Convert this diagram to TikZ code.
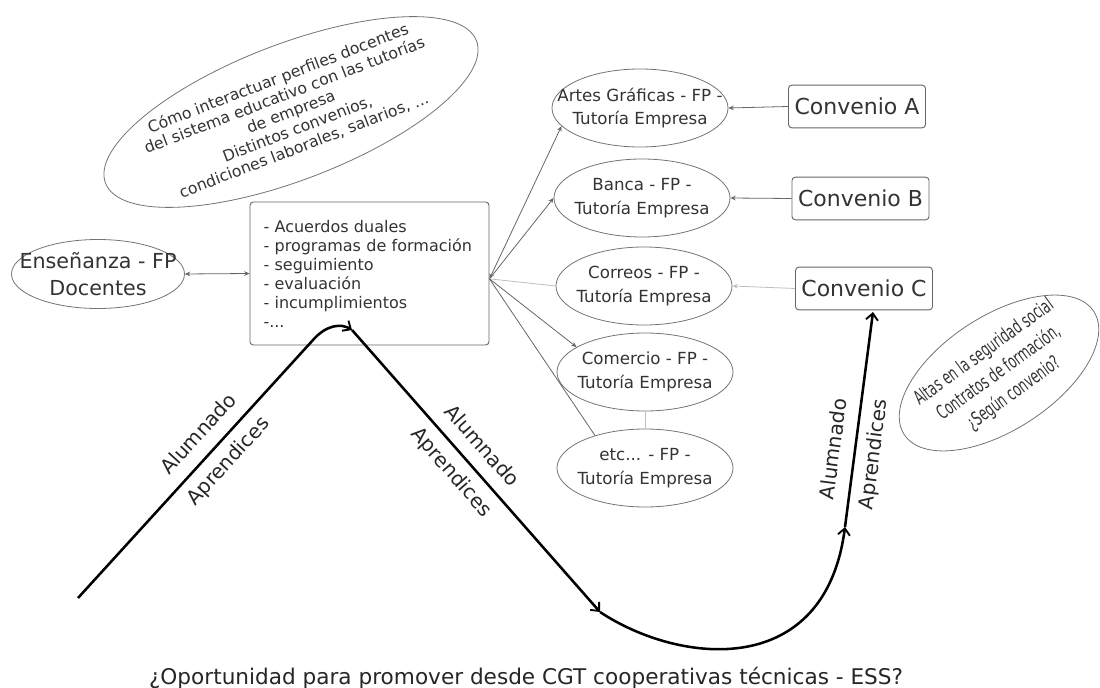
\documentclass[tikz,border=0pt]{standalone}
\usepackage{fontspec}
\setmainfont{DejaVu Sans}
\usepackage{graphicx}
\usetikzlibrary{shapes.geometric,arrows.meta}

\newcommand{\narrowtext}[1]{\scalebox{0.63}[1]{#1}}

\begin{document}
\begin{tikzpicture}[x=0.75pt,y=-0.75pt,
    oval/.style={draw=black!55,line width=0.6pt,ellipse,inner sep=0pt},
    ovaltext/.style={align=center,text=black!80,inner sep=0pt},
    sector/.style={oval,minimum width=132pt,minimum height=58.5pt},
    sectortext/.style={ovaltext,font=\fontsize{12.5}{17.5}\selectfont},
    convbox/.style={draw=black!60,line width=0.7pt,rounded corners=2.5pt,minimum width=102.75pt,minimum height=32pt,inner sep=0pt,text=black!80,font=\fontsize{16.5}{19}\selectfont},
    panel/.style={draw=black!60,line width=0.7pt,rounded corners=2.5pt,minimum width=179.25pt,minimum height=107.25pt,text width=159pt,inner xsep=10pt,align=left,text=black!80,font=\fontsize{12}{14.25}\selectfont},
    link/.style={draw=black!60,line width=0.6pt},
    faint/.style={draw=black!25,line width=0.6pt},
    endtip/.style={-{Stealth[length=4pt,width=3.5pt]}},
    bothtips/.style={{Stealth[length=4pt,width=3.5pt]}-{Stealth[length=4pt,width=3.5pt]}},
    flow/.style={line width=1.9pt,-{Straight Barb[length=5pt,width=9pt,line width=1.4pt]}},
    lbl/.style={sloped,inner sep=7pt,text height=11pt,text depth=3pt,text=black!85,font=\fontsize{15}{18}\selectfont}]

    \useasboundingbox (0,0) rectangle (1100,688);

    %--- Dudas sobre perfiles y convenios ---
    \node[oval,rotate=21,minimum width=298pt,minimum height=102pt] (dudas) at (291,112) {};
    \node[ovaltext,rotate=21,font=\fontsize{11.8}{13.5}\selectfont] at (dudas) {Cómo interactuar perfiles docentes\\del sistema educativo con las tutorías\\de empresa\\Distintos convenios,\\condiciones laborales, salarios, ...};

    %--- Docentes y acuerdos ---
    \node[oval,minimum width=129.75pt,minimum height=51.75pt] (ense) at (98,274) {};
    \node[ovaltext,font=\fontsize{15.5}{20}\selectfont] at (ense) {Enseñanza - FP\\Docentes};
    \node[panel] (box) at (369.5,273.5) {- Acuerdos duales\\- programas de formación\\- seguimiento\\- evaluación\\- incumplimientos\\-...};
    \draw[link,bothtips] (ense.east) -- (box.west);
    \coordinate (hub) at ([yshift=-4pt]box.east);

    %--- Sectores con tutoría de empresa ---
    \foreach \nm/\txt/\xx/\yy in {artes/{Artes Gráficas - FP -}/640/108, banca/{Banca - FP -}/642/198, correos/{Correos - FP -}/644/286, comercio/{Comercio - FP -}/645/372, etc/{etc... - FP -}/645/468}{
        \node[sector] (\nm) at (\xx,\yy) {};
        \node[sectortext] at (\nm) {\txt\\Tutoría Empresa};
    }

    %--- Convenios ---
    \foreach \nm/\txt/\xx/\yy in {convA/Convenio A/857/106.5, convB/Convenio B/860.5/198.5, convC/Convenio C/864/288.5}
        \node[convbox] (\nm) at (\xx,\yy) {\txt};

    %--- Enlaces ---
    \draw[link,bothtips] (hub) -- (artes.193);
    \draw[link,endtip] (hub) -- (banca.west);
    \draw[faint] (hub) -- (correos.west);
    \draw[link,endtip] (hub) -- (comercio.160);
    \draw[link] (hub) -- (etc.147);
    \draw[faint] (comercio.south) -- (etc.north);
    \draw[link,endtip] (convA.west) -- (artes.east);
    \draw[link,endtip] (convB.west) -- (banca.east);
    \draw[faint,endtip] (convC.west) -- (correos.east);

    %--- Seguridad social ---
    \node[oval,rotate=33,minimum width=169.5pt,minimum height=85.5pt] (altas) at (999,373) {};
    \node[ovaltext,rotate=36,font=\fontsize{14.5}{19}\selectfont] at (altas) {\narrowtext{Altas en la seguridad social}\\\narrowtext{Contratos de formación,}\\\narrowtext{¿Según convenio?}};

    %--- Recorrido del alumnado ---
    \coordinate (p0) at (78,598);
    \coordinate (p1) at (313,340);
    \coordinate (p2) at (352,330);
    \coordinate (p3) at (600,612);
    \coordinate (p4) at (845,527);
    \coordinate (p5) at (873,312);
    \draw[flow] (p0) -- node[lbl,above,pos=0.58]{Alumnado} node[lbl,below,pos=0.58]{Aprendices} (p1) .. controls (326,325) and (341,323) .. (p2);
    \draw[flow] (p2) -- node[lbl,above,pos=0.46]{Alumnado} node[lbl,below,pos=0.46]{Aprendices} (p3);
    \draw[flow] (p3) .. controls (680,665) and (825,680) .. (p4);
    \draw[flow] (p4) -- node[lbl,above,pos=0.35]{Alumnado} node[lbl,below,pos=0.35]{Aprendices} (p5);

    %--- Pregunta final ---
    \node[text=black!85,font=\fontsize{16.2}{20}\selectfont,anchor=base] (pregunta) at (526,684) {¿Oportunidad para promover desde CGT cooperativas técnicas - ESS?};

\end{tikzpicture}
\end{document}
